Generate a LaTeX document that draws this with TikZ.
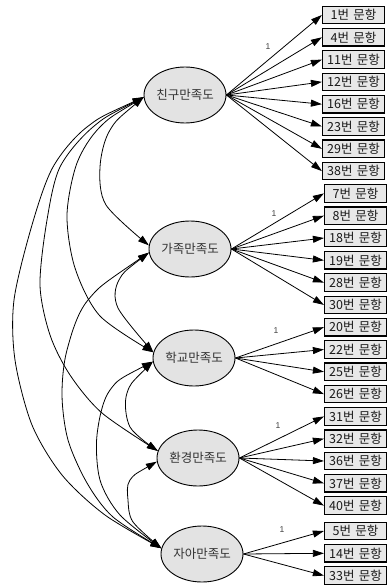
\documentclass[tikz,border=0pt]{standalone}
\usepackage{fontspec}
\setmainfont{Liberation Sans}
\newfontfamily\kr{Noto Sans CJK KR}
\usetikzlibrary{arrows.meta,shapes.geometric}
\begin{document}
\begin{tikzpicture}[x=1pt,y=-1pt,
  lat/.style={ellipse, draw=black, line width=0.9pt, fill=black!11, minimum width=82pt, minimum height=56pt, inner sep=0pt, font=\kr\fontsize{12.5}{13}\selectfont, text=black!80},
  obs/.style={rectangle, draw=black, line width=1.2pt, fill=black!9, minimum width=62pt, minimum height=17.5pt, inner sep=0pt, font=\kr\fontsize{12.5}{13}\selectfont, text=black!90},
  load/.style={-{Triangle[length=11pt,width=7pt]}, line width=0.8pt},
  cov/.style={{Triangle[length=11pt,width=7pt]}-{Triangle[length=11pt,width=7pt]}, line width=0.8pt},
  one/.style={font=\fontsize{8.5}{9}\selectfont, text=black!75, inner sep=0pt}
]
\useasboundingbox[fill=white] (0,0) rectangle (388,588);

\node[lat] (f1) at (185,95) {친구만족도};
\node[lat] (f2) at (190,249) {가족만족도};
\node[lat] (f3) at (194,358) {학교만족도};
\node[lat] (f4) at (198,458) {환경만족도};
\node[lat] (f5) at (202,554) {자아만족도};

\foreach \n/\lab/\y in {1/1/15, 2/4/37.3, 3/11/59.6, 4/12/81.9, 5/16/104.2, 6/23/126.5, 7/29/148.8, 8/38/171.1}
  \node[obs] (b\n) at (353.5,\y) {\lab{}번\hspace{0.35em}문항};
\foreach \n/\lab/\y in {9/7/193.4, 10/8/215.7, 11/18/238, 12/19/260.3, 13/28/282.6, 14/30/304.9,
  15/20/327.2, 16/22/349.5, 17/25/371.8, 18/26/394.1,
  19/31/416.4, 20/32/438.7, 21/36/461, 22/37/483.3, 23/40/505.6,
  24/5/531, 25/14/553.3, 26/33/575.6}
  \node[obs] (b\n) at (355.5,\y) {\lab{}번\hspace{0.35em}문항};

\foreach \n in {1,...,8} \draw[load] (f1.east) -- (b\n.west);
\foreach \n in {9,...,14} \draw[load] (f2.east) -- (b\n.west);
\foreach \n in {15,...,18} \draw[load] (f3.east) -- (b\n.west);
\foreach \n in {19,...,23} \draw[load] (f4.east) -- (b\n.west);
\foreach \n in {24,...,26} \draw[load] (f5.east) -- (b\n.west);

\node[one] (l1) at (268,47) {1};
\node[one] (l2) at (274,214) {1};
\node[one] (l3) at (276,331) {1};
\node[one] (l4) at (278,426) {1};
\node[one] (l5) at (282,530) {1};

% covariances
\draw[cov] plot[smooth] coordinates {(f1.183) (110,130) (100,167) (106,205) (f2.175)};
\draw[cov] plot[smooth] coordinates {(f1.183) (100,127) (77,163) (67,215) (75,268) (100,316) (f3.172)};
\draw[cov] plot[smooth] coordinates {(f1.183) (93,127) (60,167) (47,220) (40,285) (50,335) (70,375) (102,413) (f4.170)};
\draw[cov] plot[smooth] coordinates {(f1.183) (87,127) (53,167) (32,225) (14,300) (15,360) (32,425) (62,475) (105,515) (f5.172)};
\draw[cov] plot[smooth] coordinates {(f2.185) (119,280) (118,308) (f3.172)};
\draw[cov] plot[smooth] coordinates {(f2.185) (88,300) (67,350) (62,395) (68,440) (87,483) (113,517) (f5.172)};
\draw[cov] plot[smooth] coordinates {(f3.185) (127,393) (130,427) (f4.170)};
\draw[cov] plot[smooth] coordinates {(f3.185) (110,390) (97,435) (100,480) (120,515) (f5.172)};
\draw[cov] plot[smooth] coordinates {(f4.185) (130,480) (128,500) (133,522) (f5.172)};
\end{tikzpicture}
\end{document}
